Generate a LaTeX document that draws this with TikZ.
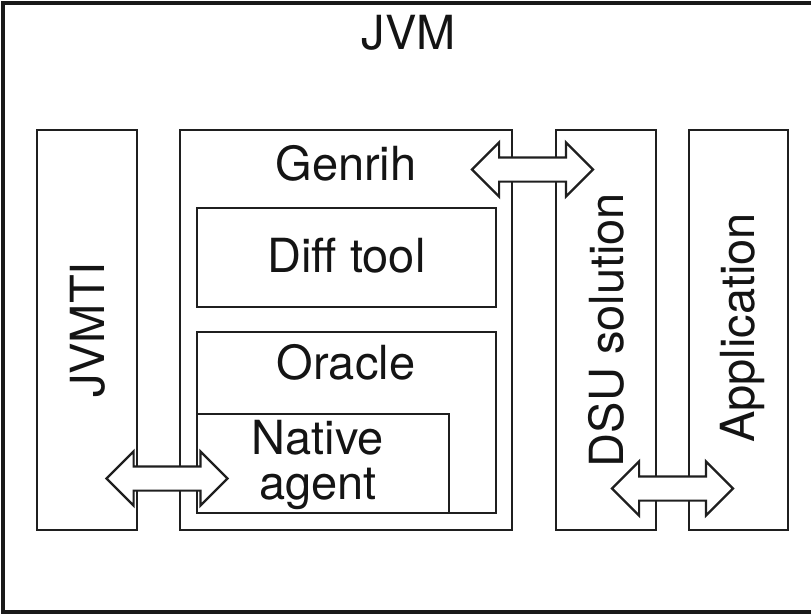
\documentclass[tikz,border=0pt]{standalone}
\usepackage{fontspec}
\setmainfont{TeX Gyre Heros}
\usetikzlibrary{shapes.arrows}
\begin{document}
\begin{tikzpicture}[x=1pt,y=-1pt,
  frame/.style={draw=black!90, line width=3.5pt, anchor=north west, inner sep=0pt, outer sep=0pt},
  box/.style={draw=black!88, line width=2.2pt, anchor=north west, inner sep=0pt, outer sep=0pt},
  lbl/.style={font=\fontsize{47}{45}\selectfont, text=black!92, inner sep=0pt, anchor=base},
  dblarrow/.style={double arrow, draw=black!88, fill=white, line width=2.2pt,
    inner xsep=0pt, inner ysep=11pt, double arrow head extend=15pt,
    double arrow tip angle=90, minimum height=121pt}]
\useasboundingbox (0,0) rectangle (811,615);
\fill[white] (0,0) rectangle (811,615);

% outer JVM frame
\node[frame, minimum width=810pt, minimum height=609pt] (jvm) at (3,3) {};

% columns
\node[box, minimum width=100pt, minimum height=400pt] (jvmti)  at (37,130) {};
\node[box, minimum width=332pt, minimum height=400pt] (genrih) at (180,130) {};
\node[box, minimum width=100pt, minimum height=400pt] (dsu)    at (556,130) {};
\node[box, minimum width=99pt,  minimum height=400pt] (app)    at (689,130) {};

% inner boxes of Genrih
\node[box, minimum width=299pt, minimum height=99pt]  (diff)   at (197,208) {};
\node[box, minimum width=299pt, minimum height=181pt] (oracle) at (197,332) {};
\node[box, minimum width=252pt, minimum height=99pt]  (native) at (197,414) {};

% two-headed connectors
\node[dblarrow] (a1) at (167,478.5) {};
\node[dblarrow] (a2) at (532.5,169.5) {};
\node[dblarrow] (a3) at (672.5,488.5) {};

% labels (base of a two-line label is its last line)
\node[lbl] (tjvm)    at (408.5,50) {JVM};
\node[lbl] (tgenrih) at (346,180) {Genrih};
\node[lbl] (tdiff)   at (346.5,272) {Diff tool};
\node[lbl] (toracle) at (346,379) {Oracle};
\node[lbl, align=center] (tnative) at (318,499) {Native\\agent};
\node[lbl, rotate=90] (tjvmti) at (104,330) {JVMTI};
\node[lbl, rotate=90] (tdsu)   at (623,330) {DSU solution};
\node[lbl, rotate=90] (tapp)   at (754,328) {Application};
\end{tikzpicture}
\end{document}
